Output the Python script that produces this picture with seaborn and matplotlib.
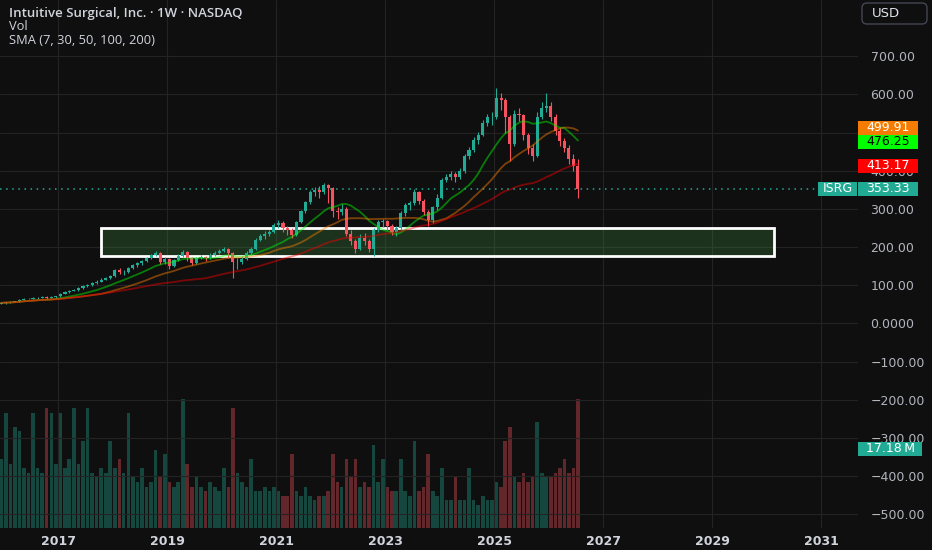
import numpy as np
import pandas as pd
import matplotlib
matplotlib.use("Agg")
import matplotlib.pyplot as plt
import matplotlib.dates as mdates
import matplotlib.transforms as mtransforms
from matplotlib.patches import Rectangle, FancyBboxPatch
import seaborn as sns

# monthly bars, Dec 2015 .. Jul 2026
first_month = "2015-12-01"
first_open = 52
closes = [54, 55, 56, 58, 62, 64, 65, 66, 68, 70, 68, 69, 71,
          78, 82, 85, 88, 93, 98, 102, 106, 110, 115, 120, 124,
          140, 135, 136, 145, 152, 158, 163, 171, 180, 184, 162, 170,
          150, 166, 178, 188, 171, 158, 172, 175, 172, 180, 185, 190,
          195, 185, 160, 160, 170, 185, 195, 220, 230, 235, 240, 258,
          262, 250, 245, 232, 265, 295, 318, 345, 350, 345, 362, 355,
          295, 292, 300, 235, 215, 195, 225, 215, 195, 245, 265, 268,
          255, 240, 250, 290, 310, 315, 345, 320, 293, 270, 305, 330,
          375, 385, 392, 385, 400, 440, 455, 482, 495, 525, 540, 540,
          590, 585, 540, 470, 550, 545, 495, 460, 440, 540, 565, 570,
          540, 505, 478, 460, 430, 412, 353]
highs = [56, 57, 58, 60, 63, 66, 68, 69, 70, 72, 71, 71, 73,
         79, 84, 87, 91, 95, 100, 104, 108, 113, 118, 123, 127,
         143, 146, 140, 148, 155, 161, 166, 175, 183, 189, 187, 175,
         172, 170, 182, 192, 190, 174, 175, 180, 178, 184, 189, 194,
         201, 198, 188, 172, 176, 190, 200, 225, 234, 242, 246, 262,
         270, 268, 255, 250, 268, 298, 322, 350, 358, 360, 368, 365,
         358, 305, 312, 305, 245, 222, 235, 236, 222, 250, 272, 275,
         272, 260, 256, 295, 316, 322, 352, 348, 325, 298, 308, 338,
         380, 392, 400, 398, 408, 445, 462, 488, 502, 532, 548, 555,
         616, 605, 590, 545, 560, 565, 550, 500, 470, 555, 580, 605,
         580, 548, 512, 485, 468, 445, 430]
lows = [50, 51, 53, 55, 57, 61, 63, 64, 65, 66, 64, 66, 67,
        70, 77, 80, 84, 86, 91, 96, 99, 104, 108, 113, 117,
        122, 130, 126, 133, 142, 149, 153, 160, 168, 176, 155, 156,
        143, 148, 164, 175, 165, 153, 155, 168, 164, 168, 176, 182,
        186, 172, 119, 142, 155, 166, 180, 192, 215, 222, 228, 236,
        250, 240, 232, 225, 230, 262, 290, 312, 335, 330, 340, 315,
        280, 275, 285, 228, 205, 185, 192, 205, 186, 178, 240, 252,
        245, 232, 228, 245, 282, 298, 310, 312, 285, 255, 262, 298,
        325, 370, 375, 370, 378, 395, 432, 450, 470, 490, 518, 520,
        535, 560, 500, 425, 465, 530, 480, 445, 425, 435, 535, 555,
        530, 495, 465, 448, 418, 400, 330]
# volume in millions
volumes = [15,
           25, 14, 22, 21, 13, 12, 25, 13, 12, 26, 25, 14,
           25, 13, 15, 26, 14, 19, 26, 12, 11, 13, 12, 19,
           13, 15, 12, 25, 11, 10, 13, 9, 10, 17, 11, 16,
           10, 9, 10, 28, 14, 9, 11, 9, 8, 10, 9, 8,
           13, 9, 26, 12, 10, 9, 15, 8, 8, 9, 8, 9,
           8, 7, 7, 16, 8, 7, 9, 7, 6, 7, 7, 8,
           16, 10, 9, 15, 11, 15, 9, 10, 9, 18, 10, 15,
           9, 8, 8, 15, 8, 7, 19, 8, 9, 16, 8, 7,
           13, 6, 6, 11, 6, 6, 13, 6, 5, 7, 6, 6,
           10, 9, 19, 22, 11, 10, 12, 10, 11, 23, 12, 11,
           11, 12, 13, 15, 12, 13, 28]

# 50/100/200 weeks expressed in months
sma_names = ["SMA 50", "SMA 100", "SMA 200"]
sma_months = [12, 23, 46]
sma_colors = ["#00ff00", "#ff8000", "#ff0000"]

label_values = [499.91, 476.25, 413.17]
label_texts = ["499.91", "476.25", "413.17"]
label_colors = ["#f57c00", "#00ff00", "#ff0000"]
label_text_colors = ["white", "black", "white"]
last_price = 353.33
last_volume = 17.18
zone_low, zone_high = 176.5, 250.0
zone_start, zone_end = "2017-10-15", "2030-02-20"

price_ticks = [700, 600, 500, 400, 300, 200, 100, 0, -100, -200, -300, -400, -500]
# 500.00 sits fully under the SMA labels in the reference
price_labels = ["700.00", "600.00", "", "400.00", "300.00", "200.00", "100.00",
                "0.0000", "\u2212100.00", "\u2212200.00", "\u2212300.00", "\u2212400.00", "\u2212500.00"]
years = [2017, 2019, 2021, 2023, 2025, 2027, 2029, 2031]

bg = "#0f0f0f"
up, down = "#22ab94", "#f7525f"
teal = "#22ab94"

sns.set_theme(style="dark", rc={"axes.facecolor": bg, "figure.facecolor": bg,
                                "savefig.facecolor": bg})
plt.rcParams["font.family"] = ["DejaVu Sans"]

df = pd.DataFrame({"close": closes, "high": highs, "low": lows, "volume": volumes})
df["date"] = pd.date_range(first_month, periods=len(df), freq="MS") + pd.Timedelta(days=15)
df["open"] = [first_open] + closes[:-1]
df["color"] = np.where(df["close"] >= df["open"], up, down)
for name, n in zip(sma_names, sma_months):
    df[name] = df["close"].rolling(n, min_periods=1).mean()

fig = plt.figure(figsize=(9.32, 5.5), dpi=100)
ax = fig.add_axes([0, 22 / 550, 858 / 932, 528 / 550])
ax2 = ax.twinx()
ax.set_zorder(ax2.get_zorder() + 1)
ax.patch.set_visible(False)

ax.set_xlim(pd.Timestamp("2015-12-08"), pd.Timestamp("2031-09-05"))
ax.set_ylim(-535.8, 847.5)
ax2.set_ylim(0, 528 / 4.6)
px_per_unit = 528 / (847.5 + 535.8)

# volume
ax2.bar(df["date"], df["volume"], width=24, color=df["color"], alpha=0.36, linewidth=0)
ax2.set_yticks([])

# zone
x0 = mdates.date2num(pd.Timestamp(zone_start))
x1 = mdates.date2num(pd.Timestamp(zone_end))
ax.add_patch(Rectangle((x0, zone_low), x1 - x0, zone_high - zone_low,
                       facecolor=(0.30, 0.69, 0.31, 0.22), edgecolor="white", lw=2, zorder=2))

# candles
ax.vlines(df["date"], df["low"], df["high"], colors=df["color"], lw=0.8, zorder=3)
body = (df["close"] - df["open"]).abs().clip(lower=1.0)
ax.bar(df["date"], body, bottom=df[["open", "close"]].min(axis=1), width=21,
       color=df["color"], linewidth=0, zorder=3)

# moving averages
for name, c in zip(sma_names, sma_colors):
    sns.lineplot(data=df, x="date", y=name, ax=ax, color=c, lw=1.3, alpha=0.45, zorder=4)

ax.axhline(last_price, color=teal, lw=1.1, ls=(0, (1, 3)), zorder=4)

# axes styling
ax.set_xticks([pd.Timestamp(f"{y}-01-01") for y in years])
ax.set_xticklabels([str(y) for y in years], fontweight="bold")
ax.yaxis.tick_right()
ax.set_yticks(price_ticks)
ax.set_yticklabels(price_labels)
ax.tick_params(axis="x", length=0, pad=5, labelsize=9, labelcolor="#d1d4dc")
ax.tick_params(axis="y", length=0, pad=9, labelsize=9, labelcolor="#b2b5be")
ax.set_xlabel("")
ax.set_ylabel("")
ax2.set_ylabel("")
ax.grid(True, color="#232323", lw=0.8)
ax.set_axisbelow(True)
for a in (ax, ax2):
    for s in a.spines.values():
        s.set_visible(False)

# price labels on the right scale
trans = mtransforms.blended_transform_factory(ax.transAxes, ax.transData)
box_h = 14 / px_per_unit
bw = 60 / 858
centers = []
prev = last_price
for v in sorted(label_values):
    c = max(v, prev + box_h)
    centers.append((v, c))
    prev = c
center_of = dict(centers)
for v, t, c, tc in zip(label_values, label_texts, label_colors, label_text_colors):
    yc = center_of[v]
    ax.add_patch(Rectangle((1.0, yc - box_h / 2), bw, box_h, transform=trans,
                           facecolor=c, edgecolor="none", clip_on=False, zorder=6))
    ax.text(1.0 + bw / 2, yc, t, transform=trans, ha="center", va="center",
            color=tc, fontsize=9, zorder=7, clip_on=False)

ax.add_patch(Rectangle((1.0, last_price - box_h / 2), bw, box_h, transform=trans,
                       facecolor=teal, edgecolor="none", clip_on=False, zorder=6))
ax.text(1.0 + bw / 2, last_price, f"{last_price:.2f}", transform=trans, ha="center",
        va="center", color="white", fontsize=9, zorder=7, clip_on=False)
ax.add_patch(Rectangle((818 / 858, last_price - box_h / 2), 39 / 858, box_h, transform=trans,
                       facecolor=teal, edgecolor="none", clip_on=False, zorder=6))
ax.text(837.5 / 858, last_price, "ISRG", transform=trans, ha="center", va="center",
        color="white", fontsize=9, zorder=7, clip_on=False)

trans2 = mtransforms.blended_transform_factory(ax2.transAxes, ax2.transData)
vh = 14 / 4.6
ax.add_patch(Rectangle((1.0, last_volume - vh / 2), 64 / 858, vh, transform=trans2,
                       facecolor=teal, edgecolor="none", clip_on=False, zorder=6))
ax.text(1.0 + 32 / 858, last_volume, f"{last_volume:.2f}\u2009M", transform=trans2,
        ha="center", va="center", color="white", fontsize=9, zorder=7, clip_on=False)

# header
fig.text(9 / 932, 1 - 13 / 550, "Intuitive Surgical, Inc. \u00b7 1W \u00b7 NASDAQ",
         color="#d1d4dc", fontsize=9.5, fontweight="semibold", family="Open Sans", va="center")
fig.text(9 / 932, 1 - 27 / 550, "Vol", color="#d1d4dc", fontsize=9.3, family="Open Sans", va="center")
fig.text(9 / 932, 1 - 41 / 550, "SMA (7, 30, 50, 100, 200)", color="#d1d4dc", fontsize=9.3,
         family="Open Sans", va="center")

fig.patches.append(FancyBboxPatch((8.62, (550 - 24) / 100), 0.65, 0.21,
                                  boxstyle="round,pad=0,rounding_size=0.05",
                                  transform=fig.dpi_scale_trans, facecolor="none",
                                  edgecolor="#434651", lw=1))
fig.text(8.72 / 9.32, 1 - 13.5 / 550, "USD", color="#e0e3eb", fontsize=9.5, va="center")

fig.savefig("out.png", dpi=100, facecolor=bg)
